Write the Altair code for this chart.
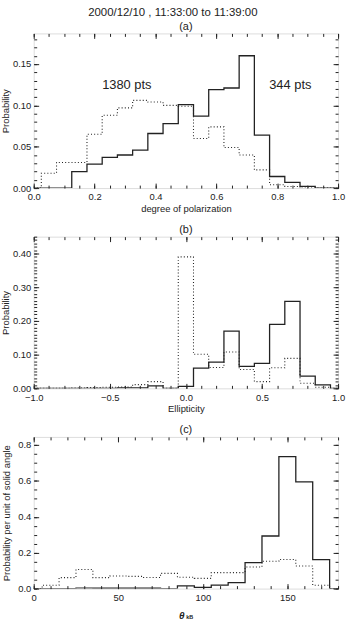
import altair as alt
import pandas as pd

TITLE = "2000/12/10 , 11:33:00 to 11:39:00"
FONT = "Liberation Sans"
INK = "#222222"

# ---- panel (a): degree of polarization ----
A_EDGES = [0.025, 0.075, 0.125, 0.175, 0.225, 0.275, 0.325, 0.375, 0.425, 0.475,
           0.525, 0.575, 0.625, 0.675, 0.725, 0.775, 0.825, 0.875, 0.925]
A_SOLID = [0.0, 0.0, 0.020, 0.029, 0.037, 0.040, 0.046, 0.066, 0.078, 0.101,
           0.087, 0.119, 0.121, 0.160, 0.064, 0.014, 0.007, 0.002, 0.0]
A_DOT = [0.018, 0.031, 0.031, 0.065, 0.088, 0.097, 0.106, 0.104, 0.100, 0.099,
         0.060, 0.074, 0.049, 0.040, 0.022, 0.004, 0.002, 0.0, 0.0]
A_XMAJ = [0.0, 0.2, 0.4, 0.6, 0.8, 1.0]
A_YMAJ = [0.0, 0.05, 0.10, 0.15]
A_LABELS = ["1380 pts", "344 pts"]
A_LAB_X = [0.306, 0.843]
A_LAB_Y = [0.124, 0.124]

# ---- panel (b): ellipticity ----
B_EDGES = [-0.95, -0.85, -0.75, -0.65, -0.55, -0.45, -0.35, -0.25, -0.15, -0.05,
           0.05, 0.15, 0.25, 0.35, 0.45, 0.55, 0.65, 0.75, 0.85]
B_SOLID = [0.0, 0.0, 0.0, 0.0, 0.0, 0.001, 0.001, 0.007, 0.0, 0.006,
           0.060, 0.078, 0.170, 0.065, 0.074, 0.190, 0.258, 0.036, 0.010]
B_DOT = [0.0, 0.0, 0.001, 0.002, 0.003, 0.004, 0.011, 0.020, 0.0, 0.390,
         0.101, 0.062, 0.108, 0.056, 0.020, 0.061, 0.089, 0.015, 0.003]
B_XMAJ = [-1.0, -0.5, 0.0, 0.5, 1.0]
B_YMAJ = [0.0, 0.10, 0.20, 0.30, 0.40]

# ---- panel (c): theta_kB ----
C_EDGES = [5, 15, 25, 35, 45, 55, 65, 75, 85, 95, 105, 115, 125, 135, 145, 155, 165, 175]
C_SOLID = [0.0, 0.0, 0.003, 0.002, 0.002, 0.002, 0.002, 0.0, 0.015, 0.007,
           0.019, 0.033, 0.145, 0.293, 0.735, 0.595, 0.161, 0.0]
C_DOT = [0.019, 0.061, 0.106, 0.061, 0.070, 0.068, 0.062, 0.085, 0.063, 0.057,
         0.089, 0.089, 0.120, 0.152, 0.162, 0.126, 0.019, 0.0]
C_XMAJ = [0, 50, 100, 150]
C_YMAJ = [0.0, 0.2, 0.4, 0.6, 0.8]


def steps(edges, vals, lo, hi):
    w = edges[1] - edges[0]
    xs = [lo] + list(edges) + [edges[-1] + w, hi]
    ys = [0.0] + list(vals) + [0.0, 0.0]
    return pd.DataFrame({"x": xs, "y": ys})


def ticks_between(lo, hi, step):
    n = int(round((hi - lo) / step))
    return [round(lo + i * step, 6) for i in range(n + 1)]


def tick_axis(orient, values, size):
    return alt.Axis(orient=orient, values=values, labels=False, domain=False,
                    grid=False, ticks=True, tickSize=size, offset=-size,
                    tickColor=INK, tickWidth=1, title=None, minExtent=0,
                    maxExtent=0)


def panel(edges, solid, dot, xdom, ydom, xmaj, xminstep, ymaj, yminstep,
          xfmt, yfmt, xtitle, ytitle, ytpad, sub, h, extra=None):
    xs = alt.Scale(domain=xdom, nice=False, zero=False)
    ys = alt.Scale(domain=ydom, nice=False, zero=False)
    ds = steps(edges, solid, xdom[0], xdom[1])
    dd = steps(edges, dot, xdom[0], xdom[1])
    xmin = ticks_between(xdom[0], xdom[1], xminstep)
    ymin = ticks_between(ydom[0], ydom[1], yminstep)

    xargs = dict(orient="bottom", values=xmaj, format=xfmt, ticks=False,
                 domain=False, grid=False, labelPadding=4, labelFlush=False,
                 labelOverlap=False, labelFontSize=9.5, labelColor=INK,
                 minExtent=0, titlePadding=2, titleFontSize=9.5,
                 titleFontWeight="normal", titleColor=INK)
    xargs["title"] = xtitle if xtitle else None
    xlab = alt.Axis(**xargs)
    ylab = alt.Axis(orient="left", values=ymaj, format=yfmt, ticks=False,
                    domain=False, grid=False, labelPadding=3, labelFlush=False,
                    labelOverlap=False, labelFontSize=9.5, labelColor=INK,
                    minExtent=0, title=ytitle, titlePadding=ytpad,
                    titleFontSize=9.5, titleFontWeight="normal", titleColor=INK)

    solid_l = alt.Chart(ds).mark_line(interpolate="step-after", clip=True,
                                      color=INK, strokeWidth=1.3).encode(
        x=alt.X("x:Q", scale=xs, axis=xlab),
        y=alt.Y("y:Q", scale=ys, axis=ylab))
    dot_l = alt.Chart(dd).mark_line(interpolate="step-after", clip=True,
                                    color=INK, strokeWidth=1.1,
                                    strokeDash=[1, 2.2]).encode(
        x=alt.X("x:Q", scale=xs, axis=None),
        y=alt.Y("y:Q", scale=ys, axis=None))

    def tick_layer(xo, yo, xv, yv, size):
        return alt.Chart(ds).mark_line(opacity=0, clip=True).encode(
            x=alt.X("x:Q", scale=xs, axis=tick_axis(xo, xv, size)),
            y=alt.Y("y:Q", scale=ys, axis=tick_axis(yo, yv, size)))

    layers = [solid_l, dot_l,
              tick_layer("bottom", "left", xmaj, ymaj, 5),
              tick_layer("top", "right", xmaj, ymaj, 5),
              tick_layer("bottom", "left", xmin, ymin, 3),
              tick_layer("top", "right", xmin, ymin, 3)]
    if extra is not None:
        layers += [e.encode(x=alt.X("x:Q", scale=xs, axis=None),
                            y=alt.Y("y:Q", scale=ys, axis=None)) for e in extra]
    return alt.layer(*layers).resolve_axis(
        x="independent", y="independent").properties(
        width=307, height=h,
        title=alt.TitleParams(sub, fontSize=11, fontWeight="normal",
                              offset=1, frame="group", color=INK))


# annotations
a_txt = alt.Chart(pd.DataFrame({"x": A_LAB_X, "y": A_LAB_Y, "t": A_LABELS})).mark_text(
    fontSize=13, color=INK, font=FONT).encode(text="t:N")
c_theta = alt.Chart(pd.DataFrame({"x": [87.6], "y": [-0.15], "t": ["θ"]})).mark_text(
    fontSize=10, fontWeight="bold", fontStyle="italic", color=INK, font=FONT,
    clip=False).encode(text="t:N")
c_sub = alt.Chart(pd.DataFrame({"x": [92.3], "y": [-0.16], "t": ["kB"]})).mark_text(
    fontSize=5.5, fontWeight="bold", color=INK, font=FONT,
    clip=False).encode(text="t:N")

pa = panel(A_EDGES, A_SOLID, A_DOT, [0.0, 1.0], [0.0, 0.187], A_XMAJ, 0.05,
           A_YMAJ, 0.01, ".1f", ".2f", "degree of polarization", "Probability", 1.5,
           "(a)", 156, extra=[a_txt])
pb = panel(B_EDGES, B_SOLID, B_DOT, [-1.0, 1.0], [0.0, 0.45], B_XMAJ, 0.1,
           B_YMAJ, 0.01, ".1f", ".2f", "Ellipticity", "Probability", 1.5, "(b)", 153)
pc = panel(C_EDGES, C_SOLID, C_DOT, [0, 180], [0.0, 0.845], C_XMAJ, 10,
           C_YMAJ, 0.05, "d", ".1f", None, "Probability per unit of solid angle", 6,
           "(c)", 153, extra=[c_theta, c_sub])

chart = alt.vconcat(pa, pb, pc, spacing=10).properties(
    title=alt.TitleParams(TITLE, fontSize=11.5, fontWeight="normal", color=INK,
                          offset=2, anchor="middle"),
    padding={"left": 0, "top": 4, "right": 0, "bottom": 0}
).configure_view(stroke="#333333", strokeWidth=1.2).configure(
    font=FONT).configure_axis(labelFont=FONT, titleFont=FONT).configure_title(
    font=FONT)

chart.save("out.html", embed_options={"renderer": "svg", "actions": False})
